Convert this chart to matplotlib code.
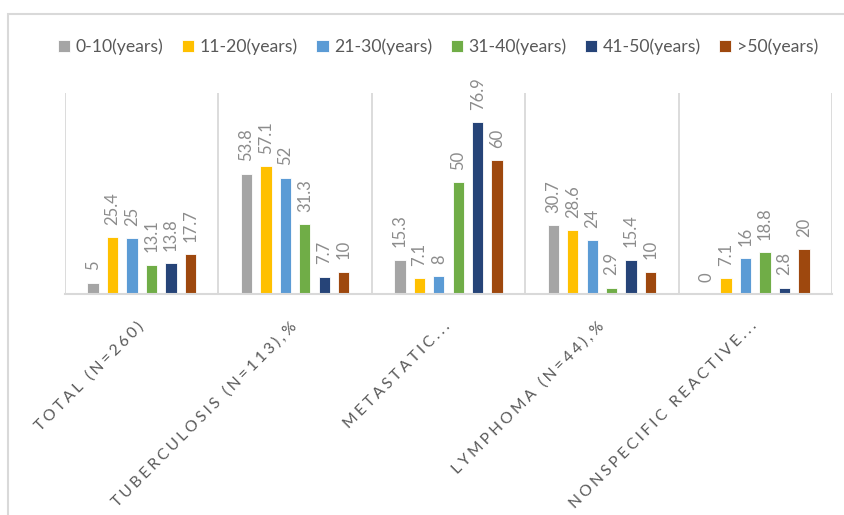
import matplotlib
matplotlib.use("Agg")
import matplotlib.pyplot as plt
from matplotlib.patches import Rectangle
import numpy as np

categories = ["TOTAL (N=260)", "TUBERCULOSIS (N=113),%", "METASTATIC...",
              "LYMPHOMA (N=44),%", "NONSPECIFIC REACTIVE..."]
series_names = ["0-10(years)", "11-20(years)", "21-30(years)",
                "31-40(years)", "41-50(years)", ">50(years)"]
v_0_10 = [5, 53.8, 15.3, 30.7, 0]
v_11_20 = [25.4, 57.1, 7.1, 28.6, 7.1]
v_21_30 = [25, 52, 8, 24, 16]
v_31_40 = [13.1, 31.3, 50, 2.9, 18.8]
v_41_50 = [13.8, 7.7, 76.9, 15.4, 2.8]
v_50p = [17.7, 10, 60, 10, 20]
series_values = [v_0_10, v_11_20, v_21_30, v_31_40, v_41_50, v_50p]
colors = ["#A5A5A5", "#FFC000", "#5B9BD5", "#70AD47", "#264478", "#9E480E"]

plt.rcParams['font.family'] = ['Lato', 'DejaVu Sans']

W, H = 844, 515
fig = plt.figure(figsize=(W / 100, H / 100), dpi=100)
fig.patch.set_facecolor("white")

# outer chart frame
fig.patches.append(Rectangle((8 / W, 0 - 0.01), 1.0, (H - 14) / H + 0.01,
                             transform=fig.transFigure, fill=False,
                             edgecolor="#D9D9D9", lw=1.5))

ax = fig.add_axes([65 / W, (H - 294) / H, (832 - 65) / W, (294 - 93) / H])
x = np.arange(len(categories))
step = 0.1266
bw = 0.074
for i, (name, vals, c) in enumerate(zip(series_names, series_values, colors)):
    pos = x + (i - 2.5) * step
    ax.bar(pos, vals, width=bw, color=c, edgecolor="white", linewidth=0.6,
           label=name, zorder=3)
    for p, v in zip(pos, vals):
        ax.annotate(f"{v:g}", (p, v), xytext=(0, 9), textcoords="offset points",
                    rotation=90, ha="center", va="bottom", fontsize=12,
                    color="#8C8C8C")

ax.set_xlim(-0.5, len(categories) - 0.5)
ax.set_ylim(0, 90)
ax.set_yticks([])
ax.set_xticks(np.arange(len(categories) + 1) - 0.5, minor=False)
ax.set_xticklabels([])
ax.tick_params(axis="x", length=0)
ax.grid(axis="x", color="#D9D9D9", lw=1.3, zorder=0)
for s in ["top", "left", "right"]:
    ax.spines[s].set_visible(False)
ax.spines["bottom"].set_color("#D9D9D9")
ax.spines["bottom"].set_linewidth(1.5)
ax.spines["bottom"].set_zorder(4)

# category labels (letter-spaced, rotated 45 degrees)
for xi, lab in zip(x, categories):
    spaced = "\u2009\u200a".join(lab)
    ax.annotate(spaced, (xi, 0), xytext=(-4, -18), textcoords="offset points",
                rotation=45, ha="right", va="top", rotation_mode="anchor",
                fontsize=11.3, color="#595959")

fig.legend(loc="center", bbox_to_anchor=(438 / W, 1 - 47 / H), ncol=6,
           frameon=False, fontsize=12.7, handlelength=0.7, handleheight=0.7,
           handletextpad=0.3, columnspacing=1.05, labelcolor="#595959")

fig.savefig("out.png", dpi=100, facecolor="white")
